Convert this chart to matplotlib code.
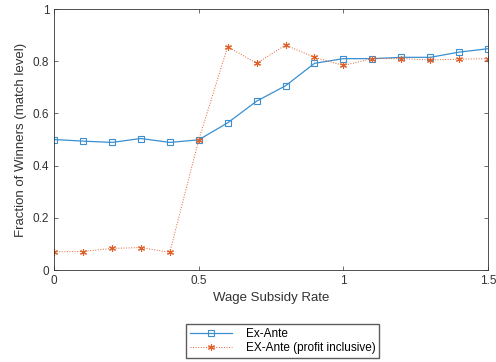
import numpy as np
import matplotlib
matplotlib.use('Agg')
import matplotlib.pyplot as plt

plt.rcParams['font.family'] = ['Liberation Sans', 'DejaVu Sans']

subsidy = np.round(np.arange(0, 1.51, 0.1), 1)
ex_ante = [0.500, 0.494, 0.489, 0.504, 0.489, 0.499, 0.564, 0.647,
           0.706, 0.792, 0.810, 0.810, 0.815, 0.815, 0.835, 0.848]
ex_ante_profit = [0.070, 0.071, 0.083, 0.086, 0.068, 0.499, 0.856, 0.792,
                  0.862, 0.815, 0.784, 0.810, 0.810, 0.805, 0.808, 0.810]

fig = plt.figure(figsize=(4.96, 3.62), dpi=100)
ax = fig.add_axes([0.109, 0.254, 0.875, 0.721])

ax.plot(subsidy, ex_ante, '-s', color='#3a8fd0', lw=0.9, ms=5,
        mfc='none', mew=0.8, label='Ex-Ante')
# matlab-style asterisk marker
ax.plot(subsidy, ex_ante_profit, ':', marker=(6, 2, 0), color='#e0602a',
        lw=0.7, ms=5, mew=0.8, label='EX-Ante (profit inclusive)')

ax.set_xlim(0, 1.5)
ax.set_ylim(0, 1)
ax.set_xticks([0, 0.5, 1, 1.5])
ax.set_xticklabels(['0', '0.5', '1', '1.5'])
ax.set_yticks([0, 0.2, 0.4, 0.6, 0.8, 1])
ax.set_yticklabels(['0', '0.2', '0.4', '0.6', '0.8', '1'])
ax.tick_params(direction='in', top=True, right=True, labelsize=8.5,
               length=3, width=0.5, colors='#333333')
for s in ax.spines.values():
    s.set_linewidth(0.6)
    s.set_color('#333333')

ax.set_xlabel('Wage Subsidy Rate', fontsize=9.5, color='#333333')
ax.set_ylabel('Fraction of Winners (match level)', fontsize=9.5, color='#333333')

fig.legend(loc='center', bbox_to_anchor=(0.57, 0.058), fontsize=8.5,
           frameon=True, fancybox=False, edgecolor='#333333',
           borderpad=0.3, labelspacing=0.2, handlelength=3.6,
           handletextpad=1.2, borderaxespad=0)

plt.savefig('out.png', dpi=100)
